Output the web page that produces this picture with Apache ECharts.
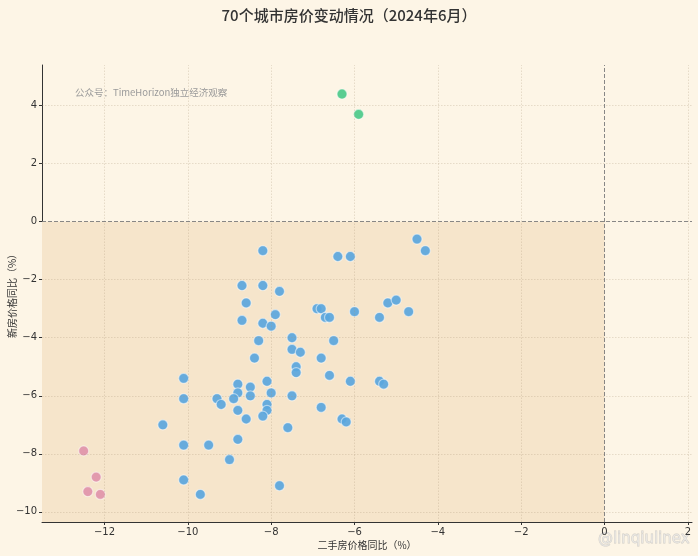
<!DOCTYPE html>
<html>
<head>
<meta charset="utf-8">
<script src="https://cdn.jsdelivr.net/npm/echarts@6/dist/echarts.min.js"></script>
<style>html,body{margin:0;padding:0;background:#fdf5e6;}#c{width:698px;height:556px;}</style>
</head>
<body>
<div id="c"></div>
<script>
// Second-hand (x) and new-home (y) YoY price change, %
const blueX = [-4.5,-4.3,-8.2,-6.4,-6.1,-8.7,-8.2,-7.8,-8.6,-8.7,-8.2,-8.0,-7.9,-6.9,-6.8,-6.7,-6.6,-6.0,-5.4,-5.2,-5.0,-4.7,-8.3,-7.5,-6.5,-8.4,-7.5,-7.3,-6.8,-7.4,-7.4,-6.6,-6.1,-5.4,-5.3,-10.1,-10.1,-8.8,-8.5,-8.1,-8.8,-8.9,-8.5,-8.0,-7.5,-9.3,-9.2,-8.1,-8.1,-8.8,-8.2,-8.6,-6.3,-6.2,-6.8,-10.6,-7.6,-8.8,-10.1,-9.5,-9.0,-10.1,-9.7,-7.8];
const blueY = [-0.6,-1.0,-1.0,-1.2,-1.2,-2.2,-2.2,-2.4,-2.8,-3.4,-3.5,-3.6,-3.2,-3.0,-3.0,-3.3,-3.3,-3.1,-3.3,-2.8,-2.7,-3.1,-4.1,-4.0,-4.1,-4.7,-4.4,-4.5,-4.7,-5.0,-5.2,-5.3,-5.5,-5.5,-5.6,-5.4,-6.1,-5.6,-5.7,-5.5,-5.9,-6.1,-6.0,-5.9,-6.0,-6.1,-6.3,-6.3,-6.5,-6.5,-6.7,-6.8,-6.8,-6.9,-6.4,-7.0,-7.1,-7.5,-7.7,-7.7,-8.2,-8.9,-9.4,-9.1];
const greenX = [-6.3,-5.9];
const greenY = [4.4,3.7];
const pinkX = [-12.5,-12.2,-12.4,-12.1];
const pinkY = [-7.9,-8.8,-9.3,-9.4];
const xTicks = [-12,-10,-8,-6,-4,-2,0,2];
const yTicks = [-10,-8,-6,-4,-2,0,2,4];
const xRange = [-13.5, 2.1];
const yRange = [-10.35, 5.4];

const zip = (a,b) => a.map((v,i)=>[v,b[i]]);
const fmt = v => v < 0 ? '\u2212' + Math.abs(v) : String(v);
const FONT = '"Noto Sans CJK SC","DejaVu Sans",sans-serif';
const TICKFONT = '"DejaVu Sans",sans-serif';

const gridLineStyle = {color:'rgba(170,150,120,0.35)', width:0.8, type:[1.5,1.5]};
const gridLines = [];
xTicks.filter(v=>v!==0).forEach(v=>gridLines.push({xAxis:v, lineStyle:gridLineStyle}));
yTicks.filter(v=>v!==0).forEach(v=>gridLines.push({yAxis:v, lineStyle:gridLineStyle}));
const zeroStyle = {color:'#7a7a7a', width:0.9, type:[4,2]};
gridLines.push({xAxis:0, lineStyle:zeroStyle});
gridLines.push({yAxis:0, lineStyle:zeroStyle});

const pointStyle = c => ({color:c, opacity:0.92, borderColor:'rgba(255,255,255,0.55)', borderWidth:1.2});

const chart = echarts.init(document.getElementById('c'));
chart.setOption({
  backgroundColor:'#fdf5e6',
  animation:false,
  title:{text:'70个城市房价变动情况（2024年6月）', left:'center', top:3,
    textStyle:{fontFamily:FONT, fontSize:15, fontWeight:500, color:'#333'}},
  grid:{left:42, right:6, top:65, bottom:34, containLabel:false, outerBoundsMode:'none'},
  xAxis:{type:'value', min:xRange[0], max:xRange[1],
    name:'二手房价格同比（%）', nameLocation:'middle', nameGap:18, nameMoveOverlap:false,
    nameTextStyle:{fontFamily:FONT, fontSize:10, color:'#333'},
    axisLine:{show:true, onZero:false, lineStyle:{color:'#333', width:1}},
    axisTick:{show:true, length:3, customValues:xTicks, lineStyle:{color:'#333'}},
    axisLabel:{customValues:xTicks, formatter:fmt, fontFamily:TICKFONT, fontSize:10, color:'#333', margin:5},
    splitLine:{show:false}},
  yAxis:{type:'value', min:yRange[0], max:yRange[1],
    name:'新房价格同比（%）', nameLocation:'middle', nameGap:25, nameMoveOverlap:false,
    nameTextStyle:{fontFamily:FONT, fontSize:10, color:'#333'},
    axisLine:{show:true, onZero:false, lineStyle:{color:'#333', width:1}},
    axisTick:{show:true, length:3, customValues:yTicks, lineStyle:{color:'#333'}},
    axisLabel:{customValues:yTicks, formatter:fmt, fontFamily:TICKFONT, fontSize:10, color:'#333', margin:5},
    splitLine:{show:false}},
  graphic:[
    {type:'text', left:75, top:88, style:{text:'公众号：TimeHorizon独立经济观察', fontFamily:FONT, fontSize:9.5, fill:'#9a9a9a'}},
    {type:'text', right:8, top:531, style:{text:'@linqiulinex', fontFamily:TICKFONT, fontSize:15, fill:'rgba(235,235,235,0.6)', stroke:'rgba(170,170,170,0.5)', lineWidth:0.8}}
  ],
  series:[
    {type:'scatter', name:'bg', data:[], silent:true,
      markArea:{silent:true, itemStyle:{color:'#f6e5cb'},
        data:[[{coord:[xRange[0], yRange[0]]},{coord:[0,0]}]]},
      markLine:{silent:true, symbol:'none', label:{show:false}, data:gridLines}},
    {type:'scatter', name:'blue', data:zip(blueX,blueY), symbolSize:10, itemStyle:pointStyle('#5aa6dd'), z:3},
    {type:'scatter', name:'green', data:zip(greenX,greenY), symbolSize:10, itemStyle:pointStyle('#4cc98a'), z:3},
    {type:'scatter', name:'pink', data:zip(pinkX,pinkY), symbolSize:10, itemStyle:pointStyle('#e094aa'), z:3}
  ]
});
</script>
</body>
</html>
